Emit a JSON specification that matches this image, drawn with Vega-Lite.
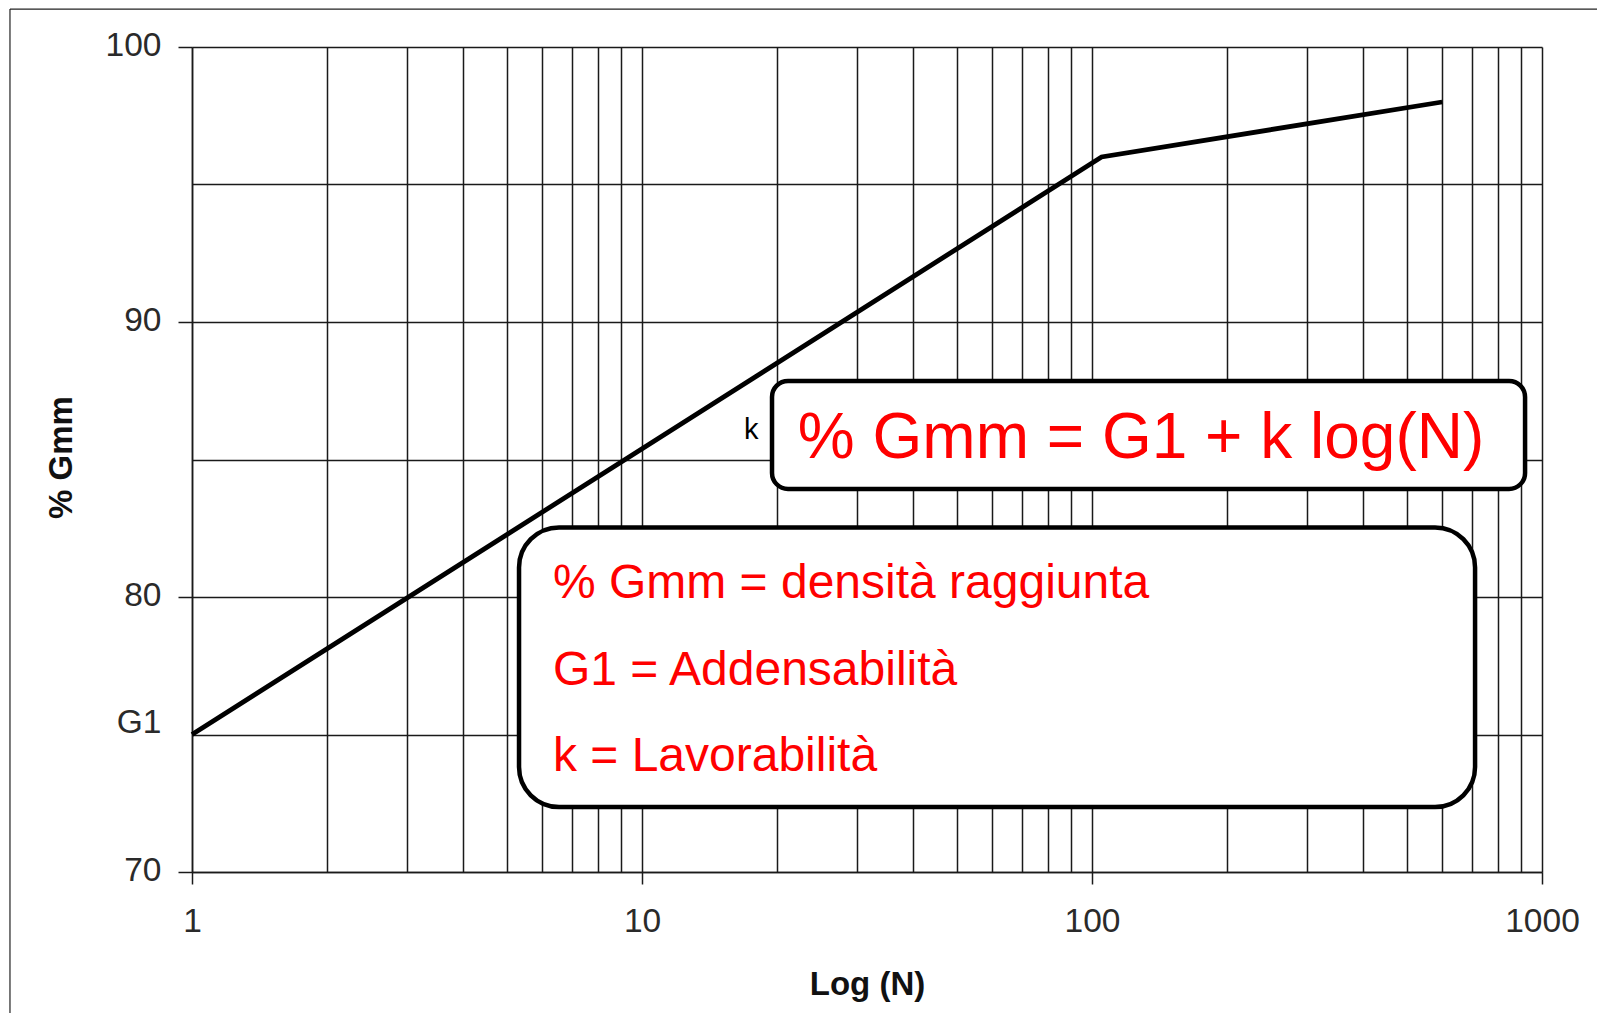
{
  "$schema": "https://vega.github.io/schema/vega-lite/v6.json",
  "autosize": {"type": "none"},
  "width": 1350,
  "height": 825,
  "padding": {"left": 192, "top": 47, "right": 55, "bottom": 141},
  "background": "white",
  "config": {
    "view": {"stroke": null},
    "font": "Liberation Sans",
    "axis": {
      "gridColor": "#1a1a1a",
      "gridWidth": 1.5,
      "gridOpacity": 1,
      "domainColor": "#1a1a1a",
      "domainWidth": 1.5,
      "tickWidth": 1.5,
      "labelFont": "Liberation Sans",
      "labelFontSize": 33.5,
      "labelColor": "#2a2a2a",
      "titleFont": "Liberation Sans",
      "titleColor": "#111111",
      "labelOverlap": false,
      "labelFlush": false
    }
  },
  "datasets": {
    "curve": [
      {"N": 1, "Gmm": 75},
      {"N": 105, "Gmm": 96},
      {"N": 600, "Gmm": 98}
    ],
    "frame": [
      {"N": 0.394, "N2": 0.394, "Gmm": 101.38, "Gmm2": 64.8},
      {"N": 0.394, "N2": 1330, "Gmm": 101.38, "Gmm2": 101.38}
    ],
    "box1": [
      {"N": 19.45, "N2": 917, "Gmm": 87.855, "Gmm2": 83.93}
    ],
    "box2": [
      {"N": 5.33, "N2": 710, "Gmm": 82.53, "Gmm2": 72.36}
    ],
    "formula": [
      {"N": 22.2, "Gmm": 85.055, "text": "% Gmm = G1 + k log(N)"}
    ],
    "klabel": [
      {"N": 17.5, "Gmm": 85.75, "text": "k"}
    ],
    "legend": [
      {"N": 6.34, "Gmm": 79.964, "text": "% Gmm = densità raggiunta"},
      {"N": 6.34, "Gmm": 76.8, "text": "G1 = Addensabilità"},
      {"N": 6.34, "Gmm": 73.673, "text": "k = Lavorabilità"}
    ]
  },
  "encoding": {
    "x": {
      "field": "N",
      "type": "quantitative",
      "scale": {"type": "log", "domain": [1, 1000], "nice": false},
      "axis": {
        "title": "Log (N)",
        "titleFontSize": 33,
        "titleFontWeight": "bold",
        "titleBaseline": "alphabetic",
        "titleY": 122,
        "values": [1, 2, 3, 4, 5, 6, 7, 8, 9, 10, 20, 30, 40, 50, 60, 70, 80, 90, 100, 200, 300, 400, 500, 600, 700, 800, 900, 1000],
        "format": "d",
        "labelExpr": "(datum.value == 1 || datum.value == 10 || datum.value == 100 || datum.value == 1000) ? datum.label : ''",
        "tickSize": 12,
        "tickColor": {"condition": {"test": "datum.value == 1 || datum.value == 10 || datum.value == 100 || datum.value == 1000", "value": "#1a1a1a"}, "value": "transparent"},
        "labelPadding": 21
      }
    },
    "y": {
      "field": "Gmm",
      "type": "quantitative",
      "scale": {"domain": [70, 100], "nice": false, "zero": false},
      "axis": {
        "title": "% Gmm",
        "titleFontSize": 33,
        "titleFontWeight": "bold",
        "titleBaseline": "alphabetic",
        "titleX": -121,
        "titleY": 410,
        "titleAlign": "center",
        "titleAngle": -90,
        "values": [70, 75, 80, 85, 90, 95, 100],
        "labelExpr": "datum.value == 75 ? 'G1' : (datum.value % 10 == 0 ? datum.label : '')",
        "labelOffset": {"condition": {"test": "datum.value == 75", "value": -12}, "value": -2},
        "tickSize": 14,
        "tickColor": {"condition": {"test": "datum.value % 10 == 0", "value": "#1a1a1a"}, "value": "transparent"},
        "labelPadding": 17
      }
    }
  },
  "layer": [
    {
      "data": {"name": "frame"},
      "mark": {"type": "rule", "clip": false, "color": "#222222", "strokeWidth": 1.2},
      "encoding": {
        "x2": {"field": "N2"},
        "y2": {"field": "Gmm2"}
      }
    },
    {
      "data": {"name": "curve"},
      "mark": {"type": "line", "color": "black", "strokeWidth": 4.8, "strokeJoin": "miter"}
    },
    {
      "data": {"name": "box1"},
      "mark": {"type": "rect", "fill": "white", "stroke": "black", "strokeWidth": 4.5, "cornerRadius": 16},
      "encoding": {
        "x2": {"field": "N2"},
        "y2": {"field": "Gmm2"}
      }
    },
    {
      "data": {"name": "box2"},
      "mark": {"type": "rect", "fill": "white", "stroke": "black", "strokeWidth": 4.5, "cornerRadius": 40},
      "encoding": {
        "x2": {"field": "N2"},
        "y2": {"field": "Gmm2"}
      }
    },
    {
      "data": {"name": "formula"},
      "mark": {"type": "text", "align": "left", "baseline": "alphabetic", "fontSize": 64, "color": "#ff0000", "font": "Liberation Sans"},
      "encoding": {"text": {"field": "text"}}
    },
    {
      "data": {"name": "klabel"},
      "mark": {"type": "text", "align": "center", "baseline": "alphabetic", "fontSize": 29, "color": "black", "font": "Liberation Sans"},
      "encoding": {"text": {"field": "text"}}
    },
    {
      "data": {"name": "legend"},
      "mark": {"type": "text", "align": "left", "baseline": "alphabetic", "fontSize": 48, "color": "#ff0000", "font": "Liberation Sans"},
      "encoding": {"text": {"field": "text"}}
    }
  ]
}
